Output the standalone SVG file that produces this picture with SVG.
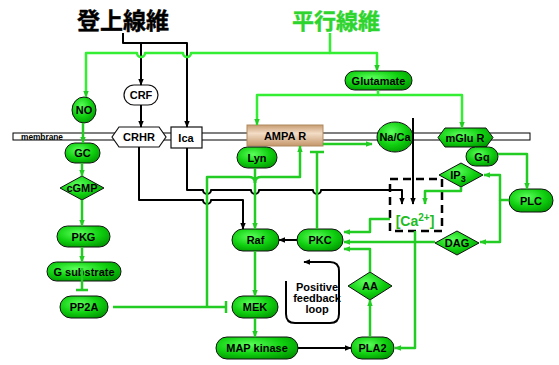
<svg xmlns="http://www.w3.org/2000/svg" width="559" height="365" viewBox="0 0 559 365">
<style>
.t{font-family:"Liberation Sans",Arial,sans-serif;font-weight:bold;font-size:11px;fill:#000;text-anchor:middle}
.gn{fill:url(#gg);stroke:#111;stroke-width:1}
.wn{fill:#fff;stroke:#111;stroke-width:1.2}
.k{fill:none;stroke:#000;stroke-width:2;stroke-linejoin:round}
.g{fill:none;stroke:#22cc22;stroke-width:2.5;stroke-linejoin:round}
.gt{fill:none;stroke:#33ee33;stroke-width:2.5;stroke-linejoin:round}
.ka{marker-end:url(#ab)}
.ga{marker-end:url(#ag)}
</style>
<defs>
<radialGradient id="gg" cx="0.4" cy="0.35" r="0.75">
<stop offset="0" stop-color="#5cff5c"/>
<stop offset="0.55" stop-color="#10d010"/>
<stop offset="1" stop-color="#009400"/>
</radialGradient>
<linearGradient id="tan" x1="0" y1="0" x2="0" y2="1">
<stop offset="0" stop-color="#c79c72"/>
<stop offset="0.4" stop-color="#f3ddc6"/>
<stop offset="1" stop-color="#c4966a"/>
</linearGradient>
<marker id="ab" viewBox="0 0 10 10" refX="9" refY="5" markerWidth="7" markerHeight="7" markerUnits="userSpaceOnUse" orient="auto"><path d="M0,1 L10,5 L0,9 z" fill="#000"/></marker>
<marker id="ag" viewBox="0 0 10 10" refX="9" refY="5" markerWidth="7" markerHeight="7" markerUnits="userSpaceOnUse" orient="auto"><path d="M0,1 L10,5 L0,9 z" fill="#22cc22"/></marker>
</defs>

<rect x="0" y="0" width="559" height="365" fill="#fff"/>

<text x="123" y="29" style="font-family:'Noto Sans CJK JP','Noto Sans CJK SC',sans-serif;font-weight:bold;font-size:23px;fill:#000;stroke:#000;stroke-width:0.4;text-anchor:middle">登上線維</text>
<text x="336" y="29" style="font-family:'Noto Sans CJK JP','Noto Sans CJK SC',sans-serif;font-weight:bold;font-size:22px;fill:#2ed42e;stroke:#2ed42e;stroke-width:0.4;text-anchor:middle">平行線維</text>

<g id="membrane">
<rect x="13" y="133" width="517" height="7" fill="#fff" stroke="#000" stroke-width="1"/>
<text x="21" y="139.6" style="font-family:'Liberation Sans',Arial,sans-serif;font-weight:bold;font-size:8.3px;fill:#000">membrane</text>
</g>

<g id="NO"><ellipse class="gn" cx="84" cy="110" rx="12" ry="13"/><text class="t" x="84" y="114">NO</text></g>
<g id="CRF"><rect class="wn" x="124" y="85" width="34" height="20" rx="10"/><text class="t" x="141" y="99">CRF</text></g>
<g id="Glutamate"><rect class="gn" x="345" y="71" width="67" height="19" rx="9.5"/><text class="t" x="378.5" y="84.5">Glutamate</text></g>
<g id="CRHR"><polygon class="wn" points="112,137 119,127 159,127 166,137 159,147 119,147"/><text class="t" x="139" y="141">CRHR</text></g>
<g id="Ica"><rect class="wn" x="171" y="127" width="31" height="21"/><text class="t" x="186" y="142">Ica</text></g>
<g id="AMPAR"><rect x="247" y="125" width="76" height="21" fill="url(#tan)" stroke="#b08a60" stroke-width="1"/><text class="t" x="285" y="139.5">AMPA R</text></g>
<g id="NaCa"><ellipse class="gn" cx="395" cy="137" rx="18" ry="15"/><text class="t" x="395" y="141">Na/Ca</text></g>
<g id="mGluR"><polygon class="gn" points="438,137.5 445,128 486,128 493,137.5 486,147 445,147"/><text class="t" x="465" y="141.5">mGlu R</text></g>
<g id="GC"><rect class="gn" x="65" y="143" width="35" height="20" rx="10"/><text class="t" x="82.5" y="157">GC</text></g>
<g id="Lyn"><rect class="gn" x="237" y="147" width="40" height="21" rx="10.5"/><text class="t" x="257" y="161.5">Lyn</text></g>
<g id="Gq"><rect class="gn" x="466" y="147" width="32" height="19" rx="9.5"/><text class="t" x="482" y="160.5">Gq</text></g>
<g id="cGMP"><polygon class="gn" points="60,188 82,176 104,188 82,200"/><text class="t" x="82" y="192">cGMP</text></g>
<g id="IP3"><polygon class="gn" points="439,175 461,163 483,175 461,187"/><text class="t" x="458" y="178.5">IP<tspan font-size="9" dy="3">3</tspan></text></g>
<g id="PLC"><rect class="gn" x="509" y="189" width="44" height="23" rx="11.5"/><text class="t" x="531" y="204.5">PLC</text></g>
<g id="Ca"><rect x="390" y="179" width="52" height="52" fill="none" stroke="#000" stroke-width="2.5" stroke-dasharray="8,5"/><text x="415" y="226" style="font-family:'Liberation Sans',Arial,sans-serif;font-weight:bold;font-size:14px;fill:#22bb22;text-anchor:middle">[Ca<tspan font-size="10" dy="-5">2+</tspan><tspan dy="5">]</tspan></text></g>
<g id="PKG"><rect class="gn" x="57" y="226" width="53" height="21" rx="10.5"/><text class="t" x="83.5" y="240.5">PKG</text></g>
<g id="Raf"><rect class="gn" x="232" y="229" width="47" height="22" rx="11"/><text class="t" x="255.5" y="244">Raf</text></g>
<g id="PKC"><rect class="gn" x="297" y="229" width="46" height="22" rx="11"/><text class="t" x="320" y="244">PKC</text></g>
<g id="DAG"><polygon class="gn" points="435,243 457,231 479,243 457,255"/><text class="t" x="457" y="247">DAG</text></g>
<g id="Gsubstrate"><rect class="gn" x="47" y="262" width="74" height="19" rx="9.5"/><text class="t" x="84" y="275.5">G substrate</text></g>
<g id="AA"><polygon class="gn" points="348,286 370,272 392,286 370,300"/><text class="t" x="370" y="290">AA</text></g>
<g id="PP2A"><rect class="gn" x="60" y="296" width="48" height="22" rx="11"/><text class="t" x="84" y="311">PP2A</text></g>
<g id="MEK"><rect class="gn" x="232" y="296" width="46" height="22" rx="11"/><text class="t" x="255" y="311">MEK</text></g>
<g id="MAPkinase"><rect class="gn" x="216" y="337" width="82" height="22" rx="11"/><text class="t" x="257" y="352">MAP kinase</text></g>
<g id="PLA2"><rect class="gn" x="351" y="337" width="43" height="22" rx="11"/><text class="t" x="372.5" y="352">PLA2</text></g>
<g id="feedback">
<text class="t" x="317" y="291">Positive</text>
<text class="t" x="317" y="302">feedback</text>
<text class="t" x="317" y="313">loop</text>
</g>

<g id="connectors">
<!-- black -->
<path class="k ka" d="M123,33 V43 H187 V127"/>
<path class="k ka" d="M141,43 V85"/>
<path class="k ka" d="M141,105 V127"/>
<path class="k ka" d="M139,147 V200 H203 A4,4 0 0 0 211,200 H243 V229"/>
<path class="k ka" d="M187,148 V190 H203 A4,4 0 0 0 211,190 H251 A4,4 0 0 0 259,190 H313 A4,4 0 0 0 321,190 H402 V204"/>
<path class="k ka" d="M413,118 V204"/>
<path class="k ka" d="M297,240 H279"/>
<path class="k ka" d="M298,348 H351"/>
<path class="k ka" stroke-width="2.5" d="M286,281 V314 Q286,323 295,323 H330 Q339,323 339,314 V271 Q339,262 330,262 H304"/>
<!-- green top -->
<path class="gt ga" d="M330,53 H191 A4,4 0 0 1 183,53 H145 A4,4 0 0 1 137,53 H86 V97"/>
<path class="gt ga" d="M330,33 V53 H377 V71"/>
<path class="gt ga" d="M378,90 V95 H257 V125"/>
<path class="gt ga" d="M378,95 H462 V128"/>
<!-- green -->
<path class="g ga" d="M83,123 V143"/>
<path class="g ga" d="M82,163 V176"/>
<path class="g ga" d="M82,200 V226"/>
<path class="g ga" d="M82,247 V262"/>
<path class="g" d="M82,268 V290 M76,290 H88"/>
<path class="g" d="M113,307 H226 M226,301 V313"/>
<path class="g" d="M207,307 V177 H249 Q255,177 255,183"/>
<path class="g ga" d="M255,168 V229"/>
<path class="g ga" d="M255,183 Q255,177 261,177 H300 V146"/>
<path class="g ga" d="M323,144 H372"/>
<path class="g" d="M317,229 V152 M310,152 H324"/>
<path class="g ga" d="M498,154 H527 V189"/>
<path class="g ga" d="M509,200 H500 V175 H484"/>
<path class="g ga" d="M500,200 V242 H480"/>
<path class="g ga" d="M461,187 V191 H425 V204"/>
<path class="g ga" d="M390,219 H370 V232 H344"/>
<path class="g ga" d="M435,242 H344"/>
<path class="g ga" d="M370,272 V249 H344"/>
<path class="g ga" d="M415,231 V348 H395"/>
<path class="g ga" d="M370,337 V300"/>
<path class="g ga" d="M255,251 V296"/>
<path class="g ga" d="M255,318 V337"/>
</g>
</svg>
